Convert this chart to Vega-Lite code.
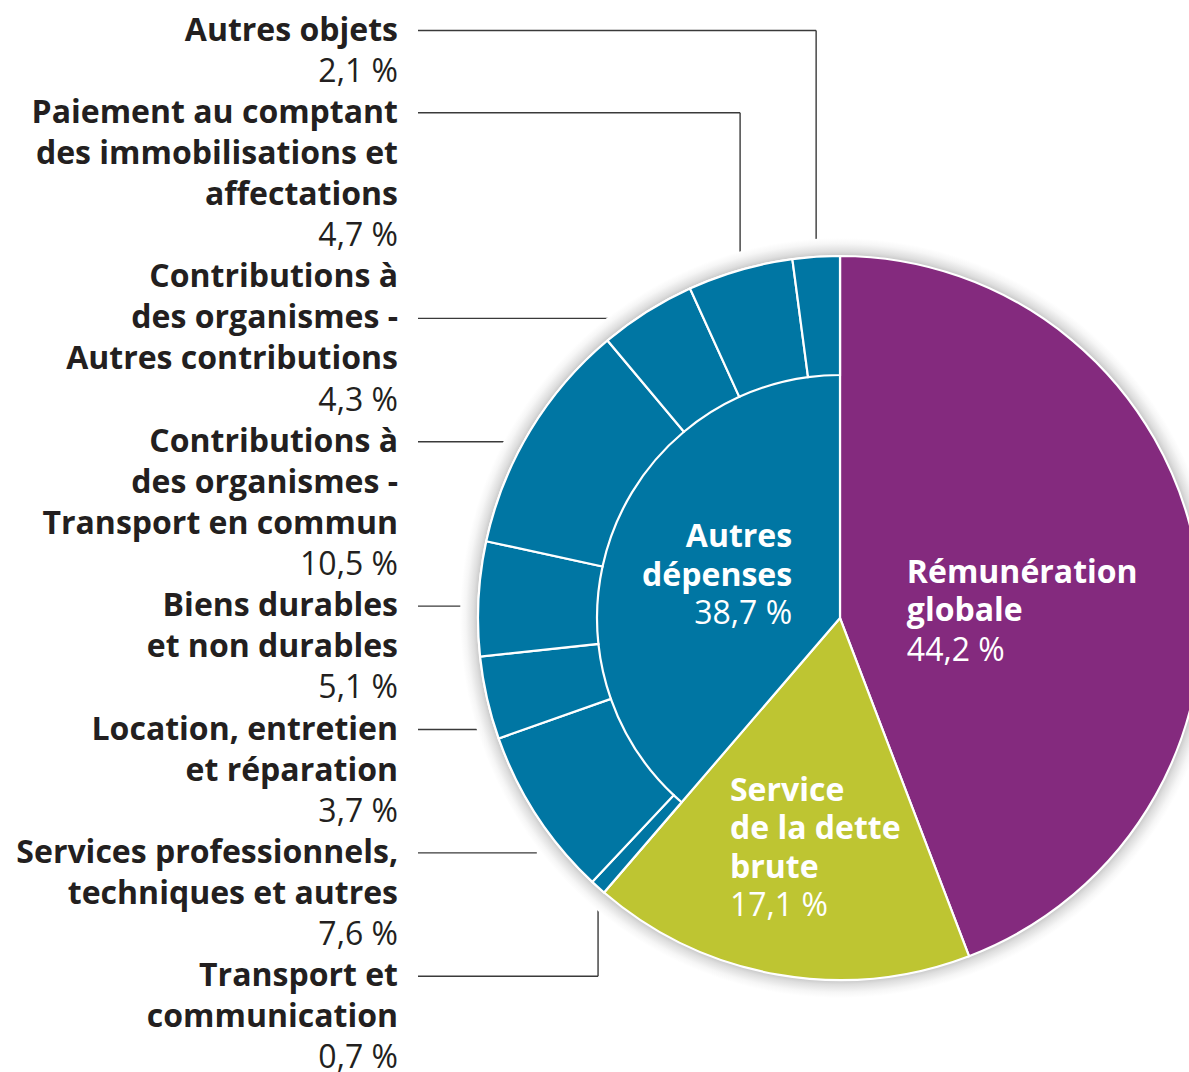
{
  "$schema": "https://vega.github.io/schema/vega-lite/v6.json",
  "width": 698,
  "height": 908,
  "autosize": {"type": "none"},
  "padding": {"left": 491, "top": 164, "right": 0, "bottom": 0},
  "background": "white",
  "config": {
    "view": {"stroke": null},
    "locale": {"number": {"decimal": ",", "thousands": " ", "grouping": [3], "currency": ["", " %"]}},
    "text": {"font": "Open Sans"}
  },
  "datasets": {
    "budget": [
      {"niveau": "principal", "categorie": "Rémunération globale", "etiquette": ["Rémunération", "globale"], "pct": 44.2},
      {"niveau": "principal", "categorie": "Service de la dette brute", "etiquette": ["Service", "de la dette", "brute"], "pct": 17.1},
      {"niveau": "principal", "categorie": "Autres dépenses", "etiquette": ["Autres", "dépenses"], "pct": 38.7},
      {"niveau": "détail", "categorie": "Autres dépenses", "poste": "Transport et communication", "pct": 0.7, "repere": 24},
      {"niveau": "détail", "categorie": "Autres dépenses", "poste": "Services professionnels, techniques et autres", "pct": 7.6, "repere": 21},
      {"niveau": "détail", "categorie": "Autres dépenses", "poste": "Location, entretien et réparation", "pct": 3.7, "repere": 18},
      {"niveau": "détail", "categorie": "Autres dépenses", "poste": "Biens durables et non durables", "pct": 5.1, "repere": 15},
      {"niveau": "détail", "categorie": "Autres dépenses", "poste": "Contributions à des organismes - Transport en commun", "pct": 10.5, "repere": 11},
      {"niveau": "détail", "categorie": "Autres dépenses", "poste": "Contributions à des organismes - Autres contributions", "pct": 4.3, "repere": 8},
      {"niveau": "détail", "categorie": "Autres dépenses", "poste": "Paiement au comptant des immobilisations et affectations", "pct": 4.7, "repere": 3},
      {"niveau": "détail", "categorie": "Autres dépenses", "poste": "Autres objets", "pct": 2.1, "repere": 1}
    ],
    "lignes": [
      {"n": 1, "poste": "Autres objets", "texte": "Autres objets"},
      {"n": 2, "poste": "Autres objets"},
      {"n": 3, "poste": "Paiement au comptant des immobilisations et affectations", "texte": "Paiement au comptant"},
      {"n": 4, "poste": "Paiement au comptant des immobilisations et affectations", "texte": "des immobilisations et"},
      {"n": 5, "poste": "Paiement au comptant des immobilisations et affectations", "texte": "affectations"},
      {"n": 6, "poste": "Paiement au comptant des immobilisations et affectations"},
      {"n": 7, "poste": "Contributions à des organismes - Autres contributions", "texte": "Contributions à\u2002"},
      {"n": 8, "poste": "Contributions à des organismes - Autres contributions", "texte": "des organismes -\u2002"},
      {"n": 9, "poste": "Contributions à des organismes - Autres contributions", "texte": "Autres contributions"},
      {"n": 10, "poste": "Contributions à des organismes - Autres contributions"},
      {"n": 11, "poste": "Contributions à des organismes - Transport en commun", "texte": "Contributions à\u2002"},
      {"n": 12, "poste": "Contributions à des organismes - Transport en commun", "texte": "des organismes -\u2002"},
      {"n": 13, "poste": "Contributions à des organismes - Transport en commun", "texte": "Transport en commun"},
      {"n": 14, "poste": "Contributions à des organismes - Transport en commun"},
      {"n": 15, "poste": "Biens durables et non durables", "texte": "Biens durables"},
      {"n": 16, "poste": "Biens durables et non durables", "texte": "et non durables"},
      {"n": 17, "poste": "Biens durables et non durables"},
      {"n": 18, "poste": "Location, entretien et réparation", "texte": "Location, entretien"},
      {"n": 19, "poste": "Location, entretien et réparation", "texte": "et réparation"},
      {"n": 20, "poste": "Location, entretien et réparation"},
      {"n": 21, "poste": "Services professionnels, techniques et autres", "texte": "Services professionnels,"},
      {"n": 22, "poste": "Services professionnels, techniques et autres", "texte": "techniques et autres"},
      {"n": 23, "poste": "Services professionnels, techniques et autres"},
      {"n": 24, "poste": "Transport et communication", "texte": "Transport et"},
      {"n": 25, "poste": "Transport et communication", "texte": "communication"},
      {"n": 26, "poste": "Transport et communication"}
    ]
  },
  "layer": [
    {
      "data": {"name": "budget"},
      "transform": [
        {"filter": "datum.niveau === 'détail' || datum.categorie !== 'Autres dépenses'"},
        {"window": [{"op": "row_number", "as": "rang"}]},
        {"stack": "pct", "groupby": [], "sort": [{"field": "rang", "order": "ascending"}], "as": ["debut", "fin"]},
        {"filter": "datum.niveau === 'détail'"}
      ],
      "mark": {"type": "rule", "color": "#3a3a3a", "strokeWidth": 1.4},
      "encoding": {
        "y": {"field": "repere", "type": "ordinal", "axis": null, "scale": {"type": "point", "domain": [1,2,3,4,5,6,7,8,9,10,11,12,13,14,15,16,17,18,19,20,21,22,23,24,25,26], "range": [-154, 915], "padding": 0.5}},
        "x": {"value": -73},
        "x2": {"value": {"expr": "width/2 + 362*sin(PI*(datum.debut+datum.fin)/100)"}}
      }
    },
    {
      "data": {"name": "budget"},
      "transform": [
        {"filter": "datum.niveau === 'détail' || datum.categorie !== 'Autres dépenses'"},
        {"window": [{"op": "row_number", "as": "rang"}]},
        {"stack": "pct", "groupby": [], "sort": [{"field": "rang", "order": "ascending"}], "as": ["debut", "fin"]},
        {"filter": {"field": "poste", "oneOf": ["Autres objets", "Paiement au comptant des immobilisations et affectations", "Transport et communication"]}}
      ],
      "mark": {"type": "rule", "color": "#3a3a3a", "strokeWidth": 1.4},
      "encoding": {
        "y": {"field": "repere", "type": "ordinal", "axis": null, "scale": {"type": "point", "domain": [1,2,3,4,5,6,7,8,9,10,11,12,13,14,15,16,17,18,19,20,21,22,23,24,25,26], "range": [-154, 915], "padding": 0.5}},
        "y2": {"value": {"expr": "height/2"}},
        "x": {"value": {"expr": "width/2 + 362*sin(PI*(datum.debut+datum.fin)/100)"}}
      }
    },
    {
      "data": {"name": "budget"},
      "transform": [
        {"filter": "datum.niveau === 'principal'"},
        {"aggregate": [{"op": "sum", "field": "pct", "as": "total"}]}
      ],
      "mark": {
        "type": "arc",
        "radius": 380,
        "fill": {
          "gradient": "radial",
          "x1": 0.5, "y1": 0.5, "r1": 0,
          "x2": 0.5, "y2": 0.5, "r2": 0.5,
          "stops": [
            {"offset": 0, "color": "#ffffff"},
            {"offset": 0.9, "color": "#ffffff"},
            {"offset": 0.945, "color": "#b8b8b8"},
            {"offset": 0.965, "color": "#dedede"},
            {"offset": 0.985, "color": "#f6f6f6"},
            {"offset": 1, "color": "#ffffff"}
          ]
        }
      },
      "encoding": {
        "theta": {"field": "total", "type": "quantitative", "stack": true}
      }
    },
    {
      "data": {"name": "budget"},
      "transform": [
        {"filter": "datum.niveau === 'principal'"},
        {"window": [{"op": "row_number", "as": "rang"}]}
      ],
      "mark": {"type": "arc", "radius": 362, "stroke": "white", "strokeWidth": 2.2},
      "encoding": {
        "theta": {"field": "pct", "type": "quantitative", "stack": true},
        "order": {"field": "rang", "type": "quantitative"},
        "color": {"field": "categorie", "type": "nominal", "legend": null, "scale": {"domain": ["Rémunération globale", "Service de la dette brute", "Autres dépenses"], "range": ["#842A7E", "#BEC532", "#0076A3"]}}
      }
    },
    {
      "data": {"name": "budget"},
      "transform": [
        {"filter": "datum.niveau === 'détail' || datum.categorie !== 'Autres dépenses'"},
        {"window": [{"op": "row_number", "as": "rang"}]}
      ],
      "mark": {"type": "arc", "radius": 362, "radius2": 243, "stroke": "white", "strokeWidth": 2.2},
      "encoding": {
        "theta": {"field": "pct", "type": "quantitative", "stack": true},
        "order": {"field": "rang", "type": "quantitative"},
        "color": {"field": "categorie", "type": "nominal", "legend": null, "scale": {"domain": ["Rémunération globale", "Service de la dette brute", "Autres dépenses"], "range": ["#842A7E", "#BEC532", "#0076A3"]}},
        "opacity": {"condition": {"test": "datum.niveau === 'principal'", "value": 0}, "value": 1}
      }
    },
    {
      "data": {"name": "budget"},
      "transform": [
        {"filter": "datum.niveau === 'principal'"},
        {"window": [{"op": "row_number", "as": "rang"}]}
      ],
      "mark": {"type": "text", "radius": 68, "align": "left", "baseline": "middle", "dy": -33, "fontWeight": "bold", "fontSize": 32, "color": "white", "lineHeight": 38.5},
      "encoding": {
        "theta": {"field": "pct", "type": "quantitative", "stack": true},
        "order": {"field": "rang", "type": "quantitative"},
        "text": {"condition": {"test": "datum.categorie === 'Rémunération globale'", "field": "etiquette", "type": "nominal"}, "value": ""}
      }
    },
    {
      "data": {"name": "budget"},
      "transform": [
        {"filter": "datum.niveau === 'principal'"},
        {"window": [{"op": "row_number", "as": "rang"}]}
      ],
      "mark": {"type": "text", "radius": 68, "align": "left", "baseline": "middle", "dy": 45, "fontSize": 32, "color": "white"},
      "encoding": {
        "theta": {"field": "pct", "type": "quantitative", "stack": true},
        "order": {"field": "rang", "type": "quantitative"},
        "text": {"condition": {"test": "datum.categorie === 'Rémunération globale'", "field": "pct", "type": "quantitative", "format": "$.1f"}, "value": ""}
      }
    },
    {
      "data": {"name": "budget"},
      "transform": [
        {"filter": "datum.niveau === 'principal'"},
        {"window": [{"op": "row_number", "as": "rang"}]}
      ],
      "mark": {"type": "text", "radius": 233, "align": "left", "baseline": "middle", "dx": -70, "dy": -57, "fontWeight": "bold", "fontSize": 32, "color": "white", "lineHeight": 38.5},
      "encoding": {
        "theta": {"field": "pct", "type": "quantitative", "stack": true},
        "order": {"field": "rang", "type": "quantitative"},
        "text": {"condition": {"test": "datum.categorie === 'Service de la dette brute'", "field": "etiquette", "type": "nominal"}, "value": ""}
      }
    },
    {
      "data": {"name": "budget"},
      "transform": [
        {"filter": "datum.niveau === 'principal'"},
        {"window": [{"op": "row_number", "as": "rang"}]}
      ],
      "mark": {"type": "text", "radius": 233, "align": "left", "baseline": "middle", "dx": -70, "dy": 58, "fontSize": 32, "color": "white"},
      "encoding": {
        "theta": {"field": "pct", "type": "quantitative", "stack": true},
        "order": {"field": "rang", "type": "quantitative"},
        "text": {"condition": {"test": "datum.categorie === 'Service de la dette brute'", "field": "pct", "type": "quantitative", "format": "$.1f"}, "value": ""}
      }
    },
    {
      "data": {"name": "budget"},
      "transform": [
        {"filter": "datum.niveau === 'principal'"},
        {"window": [{"op": "row_number", "as": "rang"}]}
      ],
      "mark": {"type": "text", "radius": 51, "align": "right", "baseline": "middle", "dy": -63, "fontWeight": "bold", "fontSize": 32, "color": "white", "lineHeight": 38.5},
      "encoding": {
        "theta": {"field": "pct", "type": "quantitative", "stack": true},
        "order": {"field": "rang", "type": "quantitative"},
        "text": {"condition": {"test": "datum.categorie === 'Autres dépenses'", "field": "etiquette", "type": "nominal"}, "value": ""}
      }
    },
    {
      "data": {"name": "budget"},
      "transform": [
        {"filter": "datum.niveau === 'principal'"},
        {"window": [{"op": "row_number", "as": "rang"}]}
      ],
      "mark": {"type": "text", "radius": 51, "align": "right", "baseline": "middle", "dy": 13.5, "fontSize": 32, "color": "white"},
      "encoding": {
        "theta": {"field": "pct", "type": "quantitative", "stack": true},
        "order": {"field": "rang", "type": "quantitative"},
        "text": {"condition": {"test": "datum.categorie === 'Autres dépenses'", "field": "pct", "type": "quantitative", "format": "$.1f"}, "value": ""}
      }
    },
    {
      "data": {"name": "lignes"},
      "transform": [{"filter": "isValid(datum.texte)"}],
      "mark": {"type": "text", "align": "right", "baseline": "middle", "fontWeight": "bold", "fontSize": 32, "color": "#231F20"},
      "encoding": {
        "y": {"field": "n", "type": "ordinal", "axis": null, "scale": {"type": "point", "domain": [1,2,3,4,5,6,7,8,9,10,11,12,13,14,15,16,17,18,19,20,21,22,23,24,25,26], "range": [-154, 915], "padding": 0.5}},
        "x": {"value": -93},
        "text": {"field": "texte", "type": "nominal"}
      }
    },
    {
      "data": {"name": "lignes"},
      "transform": [
        {"filter": "!isValid(datum.texte)"},
        {"lookup": "poste", "from": {"data": {"name": "budget"}, "key": "poste", "fields": ["pct"]}}
      ],
      "mark": {"type": "text", "align": "right", "baseline": "middle", "fontSize": 32, "color": "#231F20"},
      "encoding": {
        "y": {"field": "n", "type": "ordinal", "axis": null, "scale": {"type": "point", "domain": [1,2,3,4,5,6,7,8,9,10,11,12,13,14,15,16,17,18,19,20,21,22,23,24,25,26], "range": [-154, 915], "padding": 0.5}},
        "x": {"value": -93},
        "text": {"field": "pct", "type": "quantitative", "format": "$.1f"}
      }
    }
  ]
}
